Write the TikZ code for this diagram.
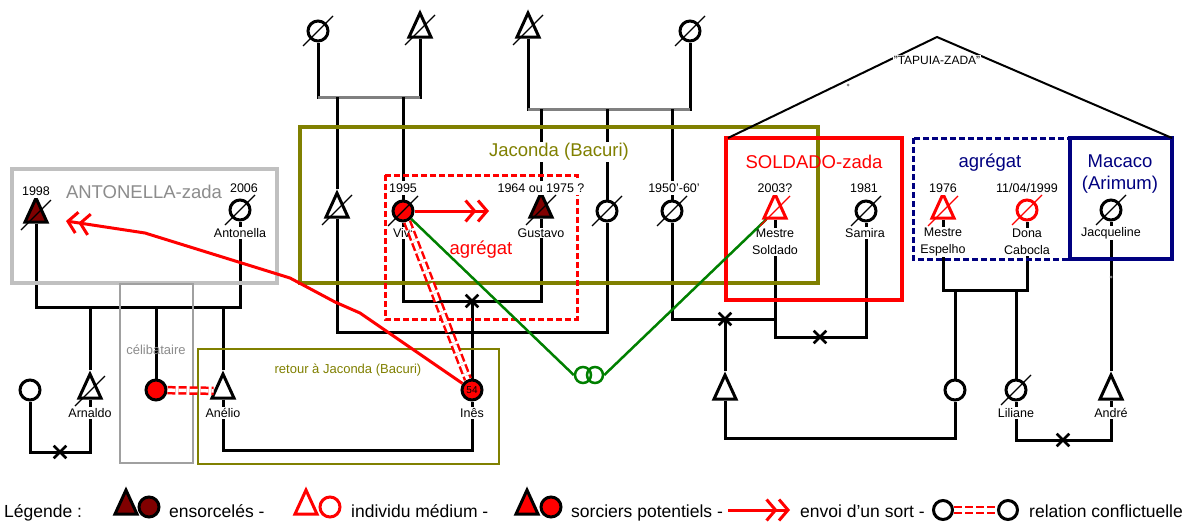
\documentclass[tikz,border=0pt]{standalone}
\usepackage{fontspec}
\setmainfont{Liberation Sans}
\usetikzlibrary{shapes.geometric,shapes.misc,arrows.meta}
\pgfdeclarelayer{bg}
\pgfsetlayers{bg,main}
\definecolor{olivec}{HTML}{808000}
\definecolor{darkredc}{HTML}{800000}
\definecolor{navyc}{HTML}{000080}
\definecolor{greenc}{HTML}{008000}
\definecolor{boxgray}{HTML}{C0C0C0}
\definecolor{midgray}{HTML}{A0A0A0}
\definecolor{txtgray}{HTML}{8C8C8C}
\definecolor{linegray}{HTML}{808080}
\tikzset{
  fem/.style={circle, draw=black, line width=3pt, minimum size=20pt, inner sep=0pt, fill=white},
  masc/.style={isosceles triangle, isosceles triangle stretches, shape border rotate=90,
     draw=black, line width=3pt, minimum width=22pt, minimum height=24pt, inner sep=0pt, fill=white},
  conn/.style={draw=black, line width=3pt},
  gconn/.style={draw=linegray, line width=3pt},
  slash/.style={line width=1.1pt},
  lab/.style={font=\fontsize{12.5}{17.5}\selectfont, inner sep=1pt, fill=white, align=center},
  yr/.style={lab, inner ysep=3pt},
  ttl/.style={font=\fontsize{18.5}{22}\selectfont, inner sep=1pt, align=center},
  sttl/.style={font=\fontsize{13}{15}\selectfont, inner sep=1pt},
  leg/.style={font=\fontsize{17.5}{20}\selectfont, inner sep=0pt},
  xmark/.style={cross out, draw=black, line width=2.6pt, minimum size=10pt, inner sep=0pt},
  sort/.style={draw=red, line width=3pt,
     -{Straight Barb[length=9pt,width=21pt]Straight Barb[length=9pt,width=21pt]}},
  conflict/.style={draw=red, line width=2.5pt, double=white, double distance=3.5pt, dash pattern=on 8pt off 3pt},
  ring/.style={circle, draw=greenc, line width=2.5pt, minimum size=16pt, inner sep=0pt},
  gline/.style={draw=greenc, line width=2.5pt},
  frame/.style={line width=4pt},
}
\newcommand{\deadmark}[2][black]{\draw[slash,#1] ([shift={(-15,15)}]#2.center) -- ([shift={(15,-15)}]#2.center);}
\begin{document}
\begin{tikzpicture}[x=1pt,y=-1pt]
\useasboundingbox (0,0) rectangle (1196,522);
\begin{pgfonlayer}{bg}
\fill[white] (0,0) rectangle (1196,522);
\end{pgfonlayer}

% ---------- persons ----------
\node[fem] (g1) at (318,31) {};
\node[masc] (g2) at (420,30) {};
\node[masc] (g3) at (528,30) {};
\node[fem] (g4) at (690,31) {};
\node[masc] (a1) at (337,210) {};
\node[fem, fill=red] (vivi) at (403,211) {};
\node[masc, fill=darkredc] (gustavo) at (541,210) {};
\node[fem] (c607) at (607,211) {};
\node[fem] (c672) at (672,211) {};
\node[fem, fill=red, font=\fontsize{10}{10}\selectfont] (ines) at (472,390) {54};
\node[masc, draw=red] (soldado) at (775,211) {};
\node[fem] (samira) at (866,211) {};
\node[masc] (t725) at (725,392) {};
\node[fem] (c955) at (955,390) {};
\node[fem] (liliane) at (1016,390) {};
\node[masc] (andre) at (1111,392) {};
\node[masc, draw=red] (espelho) at (943,211) {};
\node[fem, draw=red] (cabocla) at (1027,210) {};
\node[fem] (jacq) at (1111,210) {};
\node[masc, fill=darkredc] (t1998) at (36,215) {};
\node[fem] (antonella) at (240,210) {};
\node[fem] (c30) at (30,390) {};
\node[masc] (arnaldo) at (90,391) {};
\node[fem, fill=red] (celib) at (156,390) {};
\node[masc] (anelio) at (223,391) {};

% ---------- marriage points ----------
\coordinate (m1) at (369,97);
\coordinate (m2) at (609,109);
\coordinate (m3) at (470,332);
\coordinate (m4) at (472,301);
\coordinate (m5) at (725,319);
\coordinate (m6) at (820,337);
\coordinate (m7) at (840,438);
\coordinate (m8) at (985,290);
\coordinate (m9) at (1063,440);
\coordinate (m10) at (138,307);
\coordinate (m11) at (60,452);
\coordinate (m12) at (347,450);

% ---------- black connectors ----------
\begin{pgfonlayer}{bg}
\draw[conn] (g1) |- (m1) -| (g2);
\draw[gconn] (g1 |- m1) -- (g2 |- m1);
\draw[conn] (a1 |- m1) -- (a1);
\draw[conn] (vivi |- m1) -- (vivi);
\draw[conn] (g3) |- (m2) -| (g4);
\draw[gconn] (g3 |- m2) -- (g4 |- m2);
\draw[conn] (gustavo |- m2) -- (gustavo);
\draw[conn] (c607 |- m2) -- (c607);
\draw[conn] (c672 |- m2) -- (c672);
\draw[conn] (a1) |- (m3) -| (c607);
\draw[conn] (vivi) |- (m4) -| (gustavo);
\draw[conn] (m4) -- (ines);
\draw[conn] (c672) |- (m5) -| (soldado);
\draw[conn] (m5) -- (t725);
\draw[conn] (soldado) |- (m6) -| (samira);
\draw[conn] (t725) |- (m7) -| (c955);
\draw[conn] (espelho) |- (m8) -| (cabocla);
\draw[conn] (c955 |- m8) -- (c955);
\draw[conn] (liliane |- m8) -- (liliane);
\draw[conn] (jacq) -- (andre);
\draw[conn] (liliane) |- (m9) -| (andre);
\draw[conn] (t1998) |- (m10) -| (antonella);
\draw[conn] (arnaldo |- m10) -- (arnaldo);
\draw[conn] (celib |- m10) -- (celib);
\draw[conn] (anelio |- m10) -- (anelio);
\draw[conn] (c30) |- (m11) -| (arnaldo);
\draw[conn] (anelio) |- (m12) -| (ines);
\end{pgfonlayer}

% ---------- frames ----------
\draw[frame, boxgray] (12,169) rectangle (277,283);
\draw[line width=2pt, midgray] (120,284) rectangle (193,463);
\draw[line width=2pt, olivec] (198,349) rectangle (499,464);
\draw[frame, olivec] (300,127) rectangle (818,283);
\draw[line width=3pt, red, dash pattern=on 6pt off 3pt] (385,175) rectangle (577,319);
\draw[line width=4.5pt, red] (726,138) rectangle (902,300);
\draw[line width=3pt, navyc, dash pattern=on 6pt off 3pt] (913,138) rectangle (1070,259);
\draw[line width=4.5pt, navyc] (1070,138) rectangle (1172,259);

% ---------- TAPUIA-ZADA ----------
\coordinate (tapL) at (728,138);
\coordinate (tapA) at (937,37);
\coordinate (tapR) at (1172,138);
\draw[line width=2pt] (tapL) -- (tapA) -- (tapR);
\node[font=\fontsize{12}{14}\selectfont, fill=white, inner sep=1pt] (tTap) at (937,60) {"TAPUIA-ZADA"};
\fill[linegray] (848,85) circle (1.5);
\fill[linegray] (1111,277) circle (1.5);

% ---------- titles ----------
\node[ttl, text=txtgray] (tAnt) at (144,192) {ANTONELLA-zada};
\node[ttl, text=olivec, fill=white] (tJac) at (559,152) {Jaconda (Bacuri)};
\node[ttl, text=red] (tAgr1) at (481,250) {agrégat};
\node[ttl, text=red] (tSol) at (814,162) {SOLDADO-zada};
\node[ttl, text=navyc] (tAgr2) at (990,163) {agrégat};
\node[ttl, text=navyc] (tMac) at (1120,174) {Macaco\\(Arimum)};
\node[sttl, text=txtgray] (tCel) at (156,350) {célibataire};
\node[sttl, text=olivec] (tRet) at (348,370) {retour à Jaconda (Bacuri)};

% ---------- labels ----------
\node[yr] (y1998) at (36,191) {1998};
\node[yr] (y2006) at (244,188) {2006};
\node[yr] (y1995) at (403,188) {1995};
\node[yr] (y1964) at (541,188) {1964 ou 1975 ?};
\node[yr] (y1950) at (674,188) {1950'-60'};
\node[yr] (y2003) at (775,188) {2003?};
\node[yr] (y1981) at (864,188) {1981};
\node[yr] (y1976) at (943,188) {1976};
\node[yr] (y1999) at (1027,188) {11/04/1999};
\node[lab] (nAnt) at (240,233) {Antonella};
\node[lab] (nArn) at (90,413) {Arnaldo};
\node[lab] (nAne) at (223,413) {Anélio};
\node[lab] (nIne) at (472,413) {Inês};
\node[lab] (nViv) at (403,233) {Vivi};
\node[lab] (nGus) at (541,233) {Gustavo};
\node[lab] (nSol) at (775,242) {Mestre\\Soldado};
\node[lab] (nSam) at (865,233) {Samira};
\node[lab] (nEsp) at (943,242) {Mestre\\Espelho};
\node[lab] (nCab) at (1027,242) {Dona\\Cabocla};
\node[lab] (nJac) at (1111,233) {Jacqueline};
\node[lab] (nLil) at (1016,413) {Liliane};
\node[lab] (nAnd) at (1111,413) {André};

% ---------- X marks (divorce) ----------
\node[xmark] (x4) at (m4) {};
\node[xmark] (x5) at (m5) {};
\node[xmark] (x6) at (m6) {};
\node[xmark] (x9) at (m9) {};
\node[xmark] (x11) at (m11) {};

% ---------- coloured relations ----------
\draw[conflict] (vivi) -- (ines);
\draw[conflict] (celib) -- (anelio);
\coordinate (sv) at (489,211);
\draw[sort] (vivi) -- (sv);
\coordinate (sa) at (66,221);
\draw[sort, line join=round] (ines) -- (360,313) -- (335,302) -- (290,278) -- (145,233) -- (sa);
\node[ring] (ring1) at (583,375) {};
\node[ring] (ring2) at (595,375) {};
\draw[gline] (vivi) -- (ring1.west);
\draw[gline] (ring2.east) -- (soldado);

% ---------- deceased marks ----------
\deadmark{g1}\deadmark{g2}\deadmark{g3}\deadmark{g4}
\deadmark{a1}\deadmark{vivi}\deadmark{gustavo}\deadmark{c607}\deadmark{c672}
\deadmark{samira}\deadmark{liliane}\deadmark{jacq}
\deadmark{t1998}\deadmark{antonella}\deadmark{arnaldo}
\deadmark[red]{soldado}\deadmark[red]{espelho}\deadmark[red]{cabocla}

% ---------- legend ----------
\node[leg, anchor=base west] (lg0) at (4,517) {Légende :};
\node[masc, fill=darkredc] (lt1) at (126,507) {};
\node[fem, fill=darkredc] (lc1) at (149,507) {};
\node[leg, anchor=base west] (lg1) at (169,517) {ensorcelés -};
\node[masc, draw=red] (lt2) at (306,507) {};
\node[fem, draw=red] (lc2) at (330,507) {};
\node[leg, anchor=base west] (lg2) at (351,517) {individu médium -};
\node[masc, fill=red] (lt3) at (527,507) {};
\node[fem, fill=red] (lc3) at (551,507) {};
\node[leg, anchor=base west] (lg3) at (571,517) {sorciers potentiels -};
\coordinate (la1) at (728,510);
\coordinate (la2) at (790,510);
\draw[sort] (la1) -- (la2);
\node[leg, anchor=base west] (lg4) at (800,517) {envoi d'un sort -};
\node[fem, minimum size=19pt] (lc4) at (943,510) {};
\node[fem, minimum size=19pt] (lc5) at (1008,510) {};
\draw[conflict] (lc4) -- (lc5);
\node[leg, anchor=base west] (lg5) at (1029,517) {relation conflictuelle};
\end{tikzpicture}
\end{document}
